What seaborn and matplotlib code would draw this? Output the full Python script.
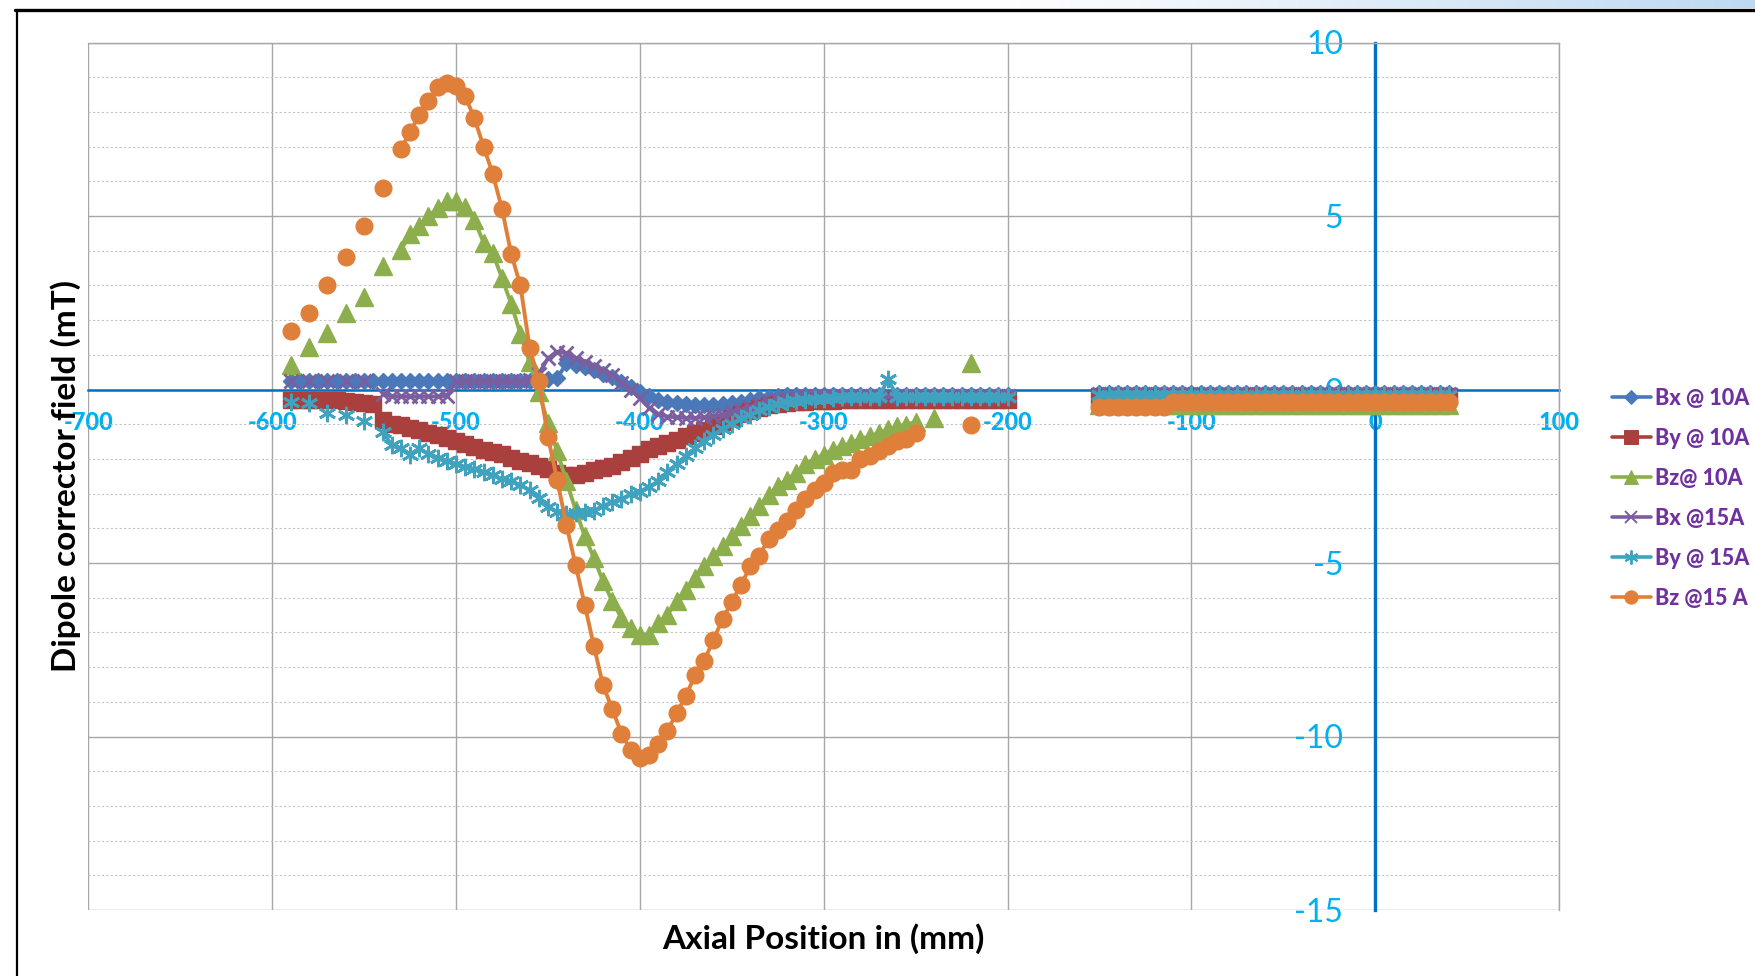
import numpy as np
import pandas as pd
import matplotlib
matplotlib.use("Agg")
import matplotlib.pyplot as plt
from matplotlib.lines import Line2D
from matplotlib.ticker import MultipleLocator
import seaborn as sns

nan = np.nan

# ---------------- data ----------------
# axial positions (mm), first measured block
x_pos_a = [-590, -585, -580, -575, -570, -565, -560, -555, -550, -545,
           -540, -535, -530, -525, -520, -515, -510, -505, -500, -495,
           -490, -485, -480, -475, -470, -465, -460, -455, -450, -445,
           -440, -435, -430, -425, -420, -415, -410, -405, -400, -395,
           -390, -385, -380, -375, -370, -365, -360, -355, -350, -345,
           -340, -335, -330, -325, -320, -315, -310, -305, -300, -295,
           -290, -285, -280, -275, -270, -265, -260, -255, -250, -245,
           -240, -235, -230, -225, -220, -215, -210, -205, -200]
# axial positions (mm), second measured block
x_pos_b = [-150, -145, -140, -135, -130, -125, -120, -115, -110, -105,
           -100, -95, -90, -85, -80, -75, -70, -65, -60, -55,
           -50, -45, -40, -35, -30, -25, -20, -15, -10, -5,
           0, 5, 10, 15, 20, 25, 30, 35, 40]

series_names = ["Bx @ 10A", "By @ 10A", "Bz@ 10A", "Bx @15A", "By @ 15A", "Bz @15 A"]

bx10_a = [0.25, 0.25, 0.25, 0.25, 0.25, 0.25, 0.25, 0.25, 0.25, 0.25,
          0.25, 0.25, 0.25, 0.25, 0.25, 0.25, 0.25, 0.25, 0.25, 0.25,
          0.25, 0.25, 0.25, 0.25, 0.25, 0.25, 0.25, 0.27, 0.30, 0.32,
          0.75, 0.72, 0.65, 0.56, 0.46, 0.35, 0.22, 0.06, -0.08, -0.20,
          -0.30, -0.35, -0.40, -0.43, -0.45, -0.45, -0.44, -0.42, -0.39, -0.35,
          -0.30, -0.25, -0.21, -0.18, -0.16, -0.15, -0.15, -0.15, -0.15, -0.15,
          -0.15, -0.15, -0.15, -0.15, -0.15, -0.28, -0.15, -0.15, -0.15, -0.15,
          -0.15, -0.15, -0.15, -0.15, -0.15, -0.15, -0.15, -0.15, -0.15]
by10_a = [-0.29, -0.29, -0.29, -0.29, -0.29, -0.30, -0.34, -0.37, -0.40, -0.43,
          -0.88, -0.98, -1.03, -1.10, -1.18, -1.25, -1.32, -1.40, -1.48, -1.58,
          -1.66, -1.75, -1.80, -1.87, -1.96, -2.07, -2.12, -2.20, -2.30, -2.40,
          -2.46, -2.46, -2.40, -2.33, -2.26, -2.20, -2.08, -1.98, -1.85, -1.72,
          -1.62, -1.53, -1.45, -1.35, -1.26, -1.17, -1.05, -0.94, -0.82, -0.71,
          -0.62, -0.52, -0.44, -0.41, -0.39, -0.37, -0.35, -0.34, -0.33, -0.32,
          -0.31, -0.31, -0.31, -0.31, -0.31, -0.31, -0.31, -0.31, -0.31, -0.31,
          -0.30, -0.30, -0.30, -0.30, -0.30, -0.30, -0.30, -0.30, -0.30]
bz10_a = [0.71, nan, 1.22, nan, 1.62, nan, 2.20, nan, 2.68, nan,
          3.56, nan, 4.02, 4.48, 4.70, 4.99, 5.23, 5.42, 5.42, 5.25,
          4.89, 4.23, 3.93, 3.21, 2.47, 1.61, 0.78, -0.07, -0.96, -1.78,
          -2.64, -3.46, -4.23, -4.86, -5.53, -6.10, -6.59, -6.88, -7.07, -7.07,
          -6.73, -6.49, -6.10, -5.77, -5.43, -5.10, -4.81, -4.52, -4.23, -3.94,
          -3.65, -3.37, -3.03, -2.79, -2.60, -2.40, -2.16, -2.00, -1.88, -1.73,
          -1.63, -1.54, -1.42, -1.35, -1.25, -1.15, -1.06, -1.01, -0.94, nan,
          -0.82, nan, nan, nan, 0.75, nan, nan, nan, nan]
bx15_a = [0.25, nan, 0.25, nan, 0.25, nan, 0.25, nan, 0.25, nan,
          -0.12, -0.20, -0.20, -0.20, -0.20, -0.20, -0.20, -0.18, 0.25, 0.25,
          0.25, 0.25, 0.25, 0.25, 0.25, 0.25, 0.28, 0.45, 0.90, 1.08,
          1.05, 0.92, 0.80, 0.67, 0.55, 0.43, 0.20, 0.00, -0.25, -0.52,
          -0.70, -0.78, -0.80, -0.82, -0.82, -0.80, -0.77, -0.73, -0.66, -0.58,
          -0.50, -0.43, -0.36, -0.30, -0.26, -0.22, -0.20, -0.20, -0.20, -0.20,
          -0.20, -0.20, -0.20, -0.20, -0.20, -0.20, -0.20, -0.20, -0.20, -0.20,
          -0.20, -0.20, -0.20, -0.20, -0.20, -0.20, -0.20, -0.20, -0.20]
by15_a = [-0.36, nan, -0.40, nan, -0.69, nan, -0.74, nan, -0.91, nan,
          -1.22, -1.60, -1.70, -1.88, -1.70, -1.85, -1.96, -2.06, -2.15, -2.24,
          -2.30, -2.38, -2.47, -2.58, -2.64, -2.76, -2.90, -3.12, -3.38, -3.52,
          -3.59, -3.56, -3.53, -3.49, -3.35, -3.25, -3.15, -3.02, -2.94, -2.81,
          -2.64, -2.38, -2.15, -1.92, -1.70, -1.47, -1.30, -1.15, -0.99, -0.83,
          -0.74, -0.60, -0.49, -0.41, -0.37, -0.32, -0.30, -0.28, -0.26, -0.25,
          -0.23, -0.22, -0.22, -0.22, -0.22, 0.30, -0.22, -0.22, -0.22, -0.22,
          -0.22, -0.22, -0.22, -0.22, -0.22, -0.22, -0.22, -0.22, -0.22]
bz15_a = [1.69, nan, 2.20, nan, 3.00, nan, 3.81, nan, 4.70, nan,
          5.82, nan, 6.93, 7.42, 7.92, 8.30, 8.71, 8.83, 8.74, 8.45,
          7.81, 7.00, 6.21, 5.20, 3.91, 3.00, 1.21, 0.24, -1.37, -2.60,
          -3.90, -5.05, -6.20, -7.40, -8.53, -9.21, -9.92, -10.40, -10.63, -10.53,
          -10.22, -9.83, -9.33, -8.83, -8.24, -7.82, -7.21, -6.62, -6.11, -5.63,
          -5.10, -4.79, -4.31, -4.04, -3.80, -3.46, -3.17, -2.90, -2.69, -2.40,
          -2.31, -2.31, -2.00, -1.92, -1.78, -1.63, -1.49, -1.42, -1.25, nan,
          nan, nan, nan, nan, -1.01, nan, nan, nan, nan]

bx10_b = [-0.10, -0.10, -0.10, -0.10, -0.10, -0.10, -0.10, -0.10, -0.10, -0.10,
          -0.10, -0.10, -0.10, -0.10, -0.10, -0.10, -0.10, -0.10, -0.10, -0.10,
          -0.10, -0.10, -0.10, -0.10, -0.10, -0.10, -0.10, -0.10, -0.10, -0.10,
          -0.10, -0.10, -0.10, -0.10, -0.10, -0.10, -0.10, -0.10, -0.10]
by10_b = [-0.18, -0.18, -0.18, -0.18, -0.18, -0.18, -0.18, -0.18, -0.18, -0.18,
          -0.18, -0.18, -0.18, -0.18, -0.18, -0.18, -0.18, -0.18, -0.18, -0.18,
          -0.18, -0.18, -0.18, -0.18, -0.18, -0.18, -0.18, -0.18, -0.18, -0.18,
          -0.18, -0.18, -0.18, -0.18, -0.18, -0.18, -0.18, -0.18, -0.18]
bz10_b = [-0.45, -0.45, -0.45, -0.45, -0.45, -0.45, -0.45, -0.45, -0.45, -0.45,
          -0.45, -0.45, -0.45, -0.45, -0.45, -0.45, -0.45, -0.45, -0.45, -0.45,
          -0.45, -0.45, -0.45, -0.45, -0.45, -0.45, -0.45, -0.45, -0.45, -0.45,
          -0.45, -0.45, -0.45, -0.45, -0.45, -0.45, -0.45, -0.45, -0.45]
bx15_b = [-0.12, -0.12, -0.12, -0.12, -0.12, -0.12, -0.12, -0.12, -0.12, -0.12,
          -0.12, -0.12, -0.12, -0.12, -0.12, -0.12, -0.12, -0.12, -0.12, -0.12,
          -0.12, -0.12, -0.12, -0.12, -0.12, -0.12, -0.12, -0.12, -0.12, -0.12,
          -0.12, -0.12, -0.12, -0.12, -0.12, -0.12, -0.12, -0.12, -0.12]
by15_b = [-0.15, -0.15, -0.15, -0.15, -0.15, -0.15, -0.15, -0.15, -0.15, -0.15,
          -0.15, -0.15, -0.15, -0.15, -0.15, -0.15, -0.15, -0.15, -0.15, -0.15,
          -0.15, -0.15, -0.15, -0.15, -0.15, -0.15, -0.15, -0.15, -0.15, -0.15,
          -0.15, -0.15, -0.15, -0.15, -0.15, -0.15, -0.15, -0.15, -0.15]
bz15_b = [-0.50, -0.50, -0.50, -0.50, -0.50, -0.50, -0.50, -0.50, -0.35, -0.35,
          -0.35, -0.35, -0.35, -0.35, -0.35, -0.35, -0.35, -0.35, -0.35, -0.35,
          -0.35, -0.35, -0.35, -0.35, -0.35, -0.35, -0.35, -0.35, -0.35, -0.35,
          -0.35, -0.35, -0.35, -0.35, -0.35, -0.35, -0.35, -0.35, -0.35]

x_tick_vals = [-700, -600, -500, -400, -300, -200, -100, 0, 100]
y_tick_vals = [-15, -10, -5, 0, 5, 10]

# ---------------- style ----------------
sns.set_style("white")
plt.rcParams["font.family"] = ["Lato", "DejaVu Sans"]
plt.rcParams["axes.unicode_minus"] = False

W, H = 1755, 976
fig = plt.figure(figsize=(W / 100, H / 100), dpi=100)
fig.patch.set_facecolor("white")
ax_l, ax_r, ax_t, ax_b = 88.4, 1559.0, 42.5, 910.0
ax = fig.add_axes([ax_l / W, 1 - ax_b / H, (ax_r - ax_l) / W, (ax_b - ax_t) / H])
ax.set_facecolor("white")

styles = [
    dict(color="#4A78B8", marker="D", markersize=8.6, markeredgewidth=1.0),
    dict(color="#A9403D", marker="s", markersize=12, markeredgewidth=1.0),
    dict(color="#8DAE4D", marker="^", markersize=13, markeredgewidth=1.0),
    dict(color="#7B5EA0", marker="x", markersize=10.5, markeredgewidth=2.0),
    dict(color="#3FA2BE", marker=(6, 2, 0), markersize=12.5, markeredgewidth=2.0),
    dict(color="#E07F3A", marker="o", markersize=12, markeredgewidth=1.0),
]

series_a = [bx10_a, by10_a, bz10_a, bx15_a, by15_a, bz15_a]
series_b = [bx10_b, by10_b, bz10_b, bx15_b, by15_b, bz15_b]

handles = []
for name, ya, yb, st in zip(series_names, series_a, series_b, styles):
    rows = []
    seg = 0
    gap = True
    for xv, yv in zip(x_pos_a, ya):
        if np.isnan(yv):
            gap = True
            continue
        if gap:
            seg += 1
            gap = False
        rows.append((xv, yv, seg))
    seg += 1
    for xv, yv in zip(x_pos_b, yb):
        rows.append((xv, yv, seg))
    df = pd.DataFrame(rows, columns=["x", "y", "seg"])
    sns.lineplot(data=df, x="x", y="y", units="seg", estimator=None, sort=False,
                 ax=ax, color=st["color"], linewidth=2.8, marker=st["marker"],
                 markersize=st["markersize"], markeredgecolor=st["color"],
                 markerfacecolor=st["color"], markeredgewidth=st["markeredgewidth"],
                 legend=False, zorder=3)
    handles.append(Line2D([], [], color=st["color"], linewidth=2.6, marker=st["marker"],
                          markersize=st["markersize"] * 0.8, markeredgecolor=st["color"],
                          markerfacecolor=st["color"], markeredgewidth=st["markeredgewidth"] * 0.7))

# ---------------- axes ----------------
ax.set_xlim(-700, 100)
ax.set_ylim(-15, 10)
ax.set_xticks(x_tick_vals, labels=[str(v) for v in x_tick_vals])
ax.set_yticks(y_tick_vals, labels=[str(v) for v in y_tick_vals])
ax.xaxis.set_minor_locator(MultipleLocator(20))
ax.yaxis.set_minor_locator(MultipleLocator(1))

ax.grid(which="major", axis="x", color="#A6A6A6", linewidth=1.0, linestyle="-")
ax.grid(which="major", axis="y", color="#A6A6A6", linewidth=1.0, linestyle="-")
ax.grid(which="minor", axis="y", color="#C4C4C4", linewidth=0.8, linestyle=(0, (2, 2)))
ax.grid(which="minor", axis="x", visible=False)
ax.set_axisbelow(True)

axis_blue = "#0070C0"
label_blue = "#00B0F0"
ax.spines["left"].set_position(("data", 0))
ax.spines["bottom"].set_position(("data", 0))
ax.spines["left"].set_color(axis_blue)
ax.spines["left"].set_linewidth(2.4)
ax.spines["bottom"].set_color(axis_blue)
ax.spines["bottom"].set_linewidth(1.8)
ax.spines["left"].set_zorder(1.5)
ax.spines["bottom"].set_zorder(1.5)
for s in ["top", "right"]:
    ax.spines[s].set_color("#A6A6A6")
    ax.spines[s].set_linewidth(1.0)

ax.tick_params(axis="y", which="major", direction="inout", length=13, width=2.2,
               color=axis_blue, labelsize=23, labelcolor=label_blue, pad=16.5)
ax.tick_params(axis="y", which="minor", direction="in", length=6, width=2.2, color=axis_blue)
ax.tick_params(axis="x", which="both", direction="out", length=4, width=1.6, color=axis_blue)
ax.tick_params(axis="x", which="major", labelsize=17, labelcolor=label_blue, pad=11.5)
for lbl in ax.get_xticklabels():
    lbl.set_fontweight("black")

ax.set_xlabel("Axial Position in (mm)", fontsize=24, fontweight="bold", color="black")
ax.xaxis.set_label_coords(0.5, (ax_b - 939) / (ax_b - ax_t))
ax.xaxis.label.set_va("center")
ax.set_ylabel("Dipole corrector field (mT)", fontsize=24, fontweight="bold", color="black")
ax.yaxis.set_label_coords((66 - ax_l) / (ax_r - ax_l), 0.5)
ax.yaxis.label.set_va("center")
ax.yaxis.label.set_zorder(5)

leg = ax.legend(handles, series_names, loc="upper left",
                bbox_to_anchor=(1612 / W, 1 - 388 / H), bbox_transform=fig.transFigure,
                frameon=False, prop={"weight": "black", "size": 15.5},
                labelcolor="#7030A0", handlelength=1.8, handletextpad=0.2,
                labelspacing=0.88, borderpad=0, borderaxespad=0)
for t in leg.get_texts():
    t.set_fontweight("black")

# ---------------- frame decoration ----------------
fig.add_artist(Line2D([15 / W, 1], [1 - 10 / H, 1 - 10 / H], color="black",
                      linewidth=2.4, transform=fig.transFigure))
fig.add_artist(Line2D([17 / W, 17 / W], [0, 1 - 10 / H], color="black",
                      linewidth=1.6, transform=fig.transFigure))
gax = fig.add_axes([1000 / W, 1 - 8 / H, 755 / W, 8 / H])
grad = np.linspace(0, 1, 256).reshape(1, -1)
gax.imshow(grad, aspect="auto", cmap=matplotlib.colors.LinearSegmentedColormap.from_list(
    "g", ["#FFFFFF", "#BDD9F2"]))
gax.set_axis_off()

fig.savefig("out.png", dpi=100)
